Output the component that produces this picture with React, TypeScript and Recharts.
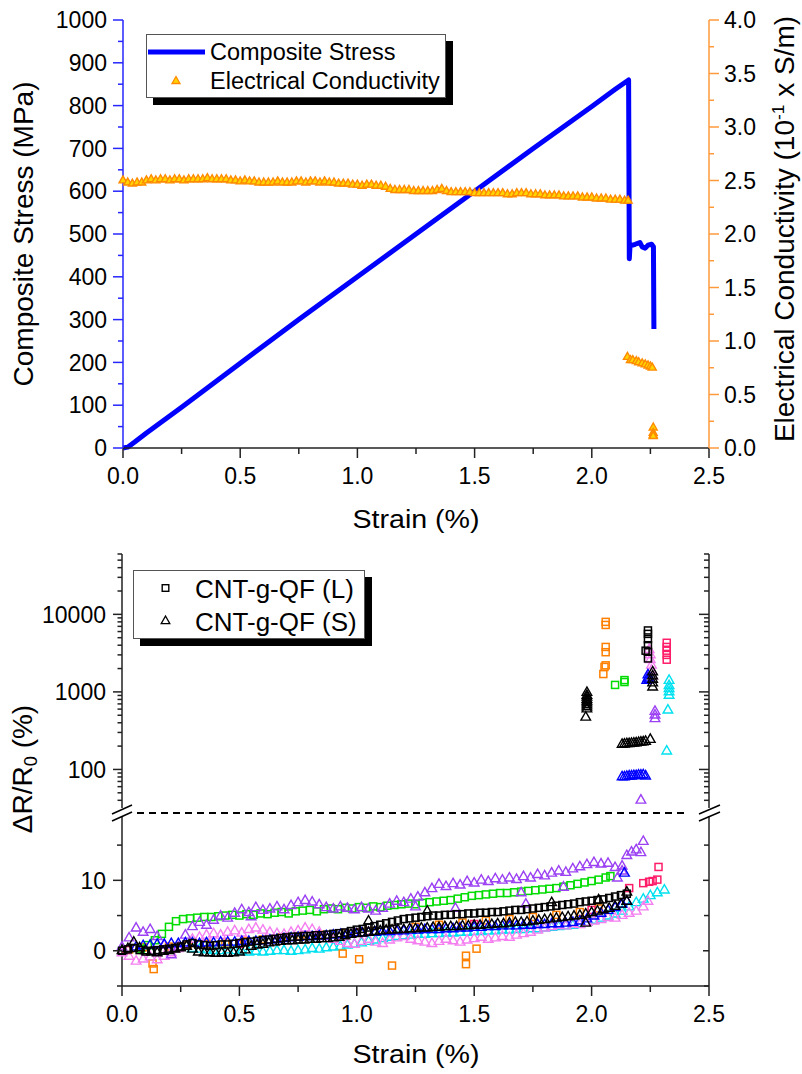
import React from 'react';
import { ComposedChart, ScatterChart, Line, Scatter, XAxis, YAxis } from 'recharts';

const FONT = '"Liberation Sans", Arial, Helvetica, sans-serif';

// ---------------- tick values ----------------
const strainTicks = [0, 0.25, 0.5, 0.75, 1, 1.25, 1.5, 1.75, 2, 2.25, 2.5];
const stressTicks = [0, 50, 100, 150, 200, 250, 300, 350, 400, 450, 500, 550, 600, 650, 700, 750, 800, 850, 900, 950, 1000];
const condTicks = [0, 0.25, 0.5, 0.75, 1, 1.25, 1.5, 1.75, 2, 2.25, 2.5, 2.75, 3, 3.25, 3.5, 3.75, 4];
const logTicks = [30, 40, 50, 60, 70, 80, 90, 100, 200, 300, 400, 500, 600, 700, 800, 900, 1000, 2000, 3000, 4000, 5000, 6000, 7000, 8000, 9000, 10000, 20000, 30000, 40000, 50000, 60000];
const linTicks = [-5, 0, 5, 10, 15];

// ---------------- top chart data ----------------
// [strain %, composite stress MPa]
const stressPts: [number, number][] = [
  [0, 0], [0.02, 2], [0.05, 14], [0.1, 35], [0.25, 95], [0.5, 198], [0.75, 300], [1.0, 400], [1.25, 500],
  [1.5, 600], [1.75, 700], [2.0, 798], [2.1, 838], [2.157, 860],
  [2.16, 442], [2.163, 472], [2.185, 476], [2.205, 480], [2.215, 470], [2.228, 467], [2.24, 474], [2.255, 476],
  [2.263, 470], [2.265, 278],
];

// [strain %, conductivity 10^-1 S/m]
const condPts: [number, number][] = [
  [0, 2.5], [0.02, 2.48], [0.04, 2.47], [0.06, 2.48], [0.08, 2.48], [0.1, 2.5], [0.12, 2.51], [0.14, 2.5],
  [0.16, 2.51], [0.18, 2.51], [0.2, 2.5], [0.22, 2.51], [0.24, 2.51], [0.26, 2.5], [0.28, 2.51], [0.3, 2.51],
  [0.32, 2.51], [0.34, 2.51], [0.36, 2.52], [0.38, 2.51], [0.4, 2.51], [0.42, 2.51], [0.44, 2.51], [0.46, 2.5],
  [0.48, 2.5], [0.5, 2.49], [0.52, 2.5], [0.54, 2.49], [0.56, 2.49], [0.58, 2.48], [0.6, 2.48], [0.62, 2.48],
  [0.64, 2.48], [0.66, 2.49], [0.68, 2.48], [0.7, 2.48], [0.72, 2.48], [0.74, 2.49], [0.76, 2.49], [0.78, 2.48],
  [0.8, 2.49], [0.82, 2.49], [0.84, 2.48], [0.86, 2.49], [0.88, 2.48], [0.9, 2.48], [0.92, 2.47], [0.94, 2.47],
  [0.96, 2.47], [0.98, 2.46], [1.0, 2.46], [1.02, 2.45], [1.04, 2.46], [1.06, 2.46], [1.08, 2.45], [1.1, 2.45],
  [1.12, 2.44], [1.14, 2.42], [1.16, 2.41], [1.18, 2.41], [1.2, 2.41], [1.22, 2.41], [1.24, 2.4], [1.26, 2.4],
  [1.28, 2.4], [1.3, 2.4], [1.32, 2.4], [1.34, 2.41], [1.36, 2.42], [1.38, 2.4], [1.4, 2.39], [1.42, 2.39],
  [1.44, 2.39], [1.46, 2.39], [1.48, 2.39], [1.5, 2.38], [1.52, 2.38], [1.54, 2.38], [1.56, 2.38], [1.58, 2.38],
  [1.6, 2.38], [1.62, 2.38], [1.64, 2.37], [1.66, 2.37], [1.68, 2.38], [1.7, 2.38], [1.72, 2.38], [1.74, 2.37],
  [1.76, 2.37], [1.78, 2.37], [1.8, 2.36], [1.82, 2.36], [1.84, 2.36], [1.86, 2.36], [1.88, 2.35], [1.9, 2.35],
  [1.92, 2.35], [1.94, 2.35], [1.96, 2.34], [1.98, 2.34], [2.0, 2.34], [2.02, 2.33], [2.04, 2.33], [2.06, 2.33],
  [2.08, 2.32], [2.1, 2.32], [2.12, 2.32], [2.14, 2.31], [2.155, 2.31],
  [2.152, 0.85], [2.165, 0.82], [2.175, 0.82], [2.19, 0.81], [2.2, 0.8], [2.215, 0.79], [2.228, 0.78],
  [2.24, 0.77], [2.25, 0.76], [2.258, 0.75], [2.262, 0.19], [2.262, 0.14], [2.262, 0.12], [2.262, 0.11],
];

// ---------------- bottom chart data (dR/R0 %) ----------------
// linear (lower) section
const blackSLow: [number, number][] = [
  [0, 0], [0.025, 0.3], [0.05, 1.2], [0.075, 0.4], [0.1, 0], [0.125, -0.2], [0.15, -0.3], [0.175, -0.1], [0.2, 0],
  [0.225, 0.2], [0.25, 0.4], [0.275, 0.6], [0.3, 0.2], [0.325, -0.2], [0.35, -0.3], [0.375, -0.3], [0.4, -0.4],
  [0.425, -0.3], [0.45, -0.4], [0.475, -0.3], [0.5, -0.2], [0.525, 0.1], [0.55, 0.6], [0.575, 0.8], [0.6, 0.9],
  [0.625, 1.1], [0.65, 1.2], [0.675, 1.3], [0.7, 1.4], [0.725, 1.4], [0.75, 1.5], [0.775, 1.5], [0.8, 1.6],
  [0.825, 1.6], [0.85, 1.7], [0.875, 1.7], [0.9, 1.8], [0.925, 1.9], [0.95, 2.1], [0.975, 2.3], [1.0, 2.4],
  [1.025, 2.5], [1.05, 2.6], [1.075, 2.7], [1.1, 2.8], [1.125, 2.9], [1.15, 2.9], [1.175, 3.0], [1.2, 3.0],
  [1.225, 3.1], [1.25, 3.1], [1.275, 3.2], [1.3, 3.2], [1.325, 3.3], [1.35, 3.3], [1.375, 3.4], [1.4, 3.4],
  [1.425, 3.4], [1.45, 3.5], [1.475, 3.5], [1.5, 3.6], [1.525, 3.6], [1.55, 3.7], [1.575, 3.7], [1.6, 3.8],
  [1.625, 3.8], [1.65, 3.9], [1.675, 4.0], [1.7, 4.0], [1.725, 4.1], [1.75, 4.2], [1.775, 4.3], [1.8, 4.4],
  [1.825, 4.5], [1.85, 4.6], [1.875, 4.7], [1.9, 4.8], [1.925, 4.9], [1.95, 5.0], [1.975, 5.2], [2.0, 5.4],
  [2.025, 5.6], [2.05, 5.8], [2.075, 6.0], [2.1, 6.3], [2.125, 6.6], [2.15, 7.0],
  [1.975, 3.9], [2.15, 8.3], [1.83, 6.8], [2.03, 7.2], [1.3, 5.6], [1.05, 4.2],
];
const blackLLow: [number, number][] = [
  [0, 0], [0.025, 0.2], [0.05, 0.4], [0.075, 0.1], [0.1, -0.1], [0.125, 0], [0.15, 0.1], [0.175, 0.2], [0.2, 0.3],
  [0.225, 0.4], [0.25, 0.6], [0.275, 0.9], [0.3, 1.1], [0.325, 0.9], [0.35, 0.8], [0.375, 0.7], [0.4, 0.8],
  [0.425, 0.9], [0.45, 0.9], [0.475, 1.0], [0.5, 1.1], [0.525, 1.2], [0.55, 1.3], [0.575, 1.4], [0.6, 1.5],
  [0.625, 1.6], [0.65, 1.7], [0.675, 1.8], [0.7, 1.9], [0.725, 2.0], [0.75, 2.0], [0.775, 2.1], [0.8, 2.1],
  [0.825, 2.2], [0.85, 2.2], [0.875, 2.3], [0.9, 2.4], [0.925, 2.5], [0.95, 2.6], [0.975, 2.8], [1.0, 3.0],
  [1.025, 3.1], [1.05, 3.3], [1.075, 3.5], [1.1, 3.7], [1.125, 3.9], [1.15, 4.1], [1.175, 4.3], [1.2, 4.5],
  [1.225, 4.6], [1.25, 4.7], [1.275, 4.8], [1.3, 4.9], [1.325, 5.0], [1.35, 5.0], [1.375, 5.1], [1.4, 5.1],
  [1.425, 5.2], [1.45, 5.2], [1.475, 5.3], [1.5, 5.3], [1.525, 5.4], [1.55, 5.4], [1.575, 5.5], [1.6, 5.5],
  [1.625, 5.6], [1.65, 5.7], [1.675, 5.8], [1.7, 5.8], [1.725, 5.9], [1.75, 6.0], [1.775, 6.1], [1.8, 6.2],
  [1.825, 6.3], [1.85, 6.4], [1.875, 6.5], [1.9, 6.6], [1.925, 6.7], [1.95, 6.9], [1.975, 7.0], [2.0, 7.1],
  [2.025, 7.2], [2.05, 7.3], [2.075, 7.5], [2.1, 7.7], [2.125, 7.9], [2.15, 8.1],
];
const blueLow: [number, number][] = [
  [0.06, 0.5], [0.09, 0.7], [0.12, 0.8], [0.15, 0.9], [0.18, 0.9], [0.21, 1.0], [0.24, 1.0], [0.27, 1.1],
  [0.3, 1.1], [0.33, 1.0], [0.36, 1.1], [0.39, 1.1], [0.42, 1.2], [0.45, 1.2], [0.48, 1.2], [0.51, 1.3],
  [0.54, 1.3], [0.57, 1.3], [0.6, 1.4], [0.63, 1.5], [0.66, 1.6], [0.69, 1.7], [0.72, 1.8], [0.75, 1.9],
  [0.78, 2.0], [0.81, 2.0], [0.84, 2.1], [0.87, 2.1], [0.9, 2.2], [0.93, 2.3], [0.96, 2.4], [0.99, 2.5],
  [1.02, 2.5], [1.05, 2.6], [1.08, 2.6], [1.11, 2.7], [1.14, 2.7], [1.17, 2.8], [1.2, 2.8], [1.23, 2.9],
  [1.26, 2.9], [1.29, 3.0], [1.32, 3.0], [1.35, 3.0], [1.38, 3.1], [1.41, 3.1], [1.44, 3.2], [1.47, 3.2],
  [1.5, 3.3], [1.53, 3.3], [1.56, 3.4], [1.59, 3.4], [1.62, 3.5], [1.65, 3.5], [1.68, 3.5], [1.71, 3.6],
  [1.74, 3.6], [1.77, 3.7], [1.8, 3.7], [1.83, 3.8], [1.86, 3.8], [1.89, 3.9], [1.92, 4.0], [1.95, 4.2],
  [1.98, 4.5], [2.01, 4.9], [2.04, 5.3], [2.07, 5.7], [2.1, 6.1], [2.13, 6.6], [2.15, 7.0], [2.14, 11.0],
];
const cyanLow: [number, number][] = [
  [0.3, 0.3], [0.33, 0.2], [0.36, 0.1], [0.39, 0], [0.42, 0], [0.45, 0.1], [0.48, 0], [0.51, -0.1], [0.54, -0.2],
  [0.57, -0.1], [0.6, -0.2], [0.63, -0.1], [0.66, 0], [0.69, 0], [0.72, -0.1], [0.75, 0], [0.78, 0.1], [0.81, 0.3],
  [0.84, 0.2], [0.87, 0.4], [0.9, 0.5], [0.93, 0.6], [0.96, 0.8], [0.99, 0.9], [1.02, 1.1], [1.05, 1.3],
  [1.08, 1.5], [1.11, 1.7], [1.14, 1.9], [1.17, 2.0], [1.2, 2.1], [1.23, 2.2], [1.26, 2.3], [1.29, 2.3],
  [1.32, 2.4], [1.35, 2.4], [1.38, 2.5], [1.41, 2.5], [1.44, 2.6], [1.47, 2.6], [1.5, 2.7], [1.53, 2.7],
  [1.56, 2.8], [1.59, 2.8], [1.62, 2.9], [1.65, 2.9], [1.68, 3.0], [1.71, 3.0], [1.74, 3.1], [1.77, 3.1],
  [1.8, 3.2], [1.83, 3.3], [1.86, 3.4], [1.89, 3.5], [1.92, 3.6], [1.95, 3.8], [1.98, 4.0], [2.01, 4.3],
  [2.04, 4.6], [2.07, 4.9], [2.1, 5.2], [2.13, 5.6], [2.16, 6.2], [2.19, 6.8], [2.22, 7.3], [2.25, 7.8],
  [2.28, 8.2], [2.31, 8.6],
];
const pinkLow: [number, number][] = [
  [0, -0.3], [0.03, -0.8], [0.06, -1.5], [0.09, -1.2], [0.12, -0.9], [0.15, -1.3], [0.18, -0.8], [0.21, -0.3],
  [0.24, 0.3], [0.27, 1.0], [0.3, 1.6], [0.33, 1.9], [0.36, 2.2], [0.39, 2.4], [0.42, 2.2], [0.45, 2.6],
  [0.48, 2.8], [0.51, 2.5], [0.54, 3.0], [0.57, 3.2], [0.6, 2.9], [0.63, 2.6], [0.66, 2.4], [0.69, 2.3],
  [0.72, 2.6], [0.75, 2.8], [0.78, 3.2], [0.81, 3.0], [0.84, 2.6], [0.87, 2.0], [0.9, 1.6], [0.93, 1.3],
  [0.96, 1.0], [0.99, 0.9], [1.02, 1.3], [1.05, 1.6], [1.08, 1.2], [1.11, 1.0], [1.14, 1.5], [1.17, 1.8],
  [1.2, 2.0], [1.23, 1.6], [1.26, 1.4], [1.29, 1.2], [1.32, 1.0], [1.35, 1.3], [1.38, 1.6], [1.41, 1.4],
  [1.44, 1.2], [1.47, 1.5], [1.5, 1.7], [1.53, 1.9], [1.56, 1.6], [1.59, 1.8], [1.62, 2.0], [1.65, 1.9],
  [1.68, 2.2], [1.71, 2.4], [1.74, 2.6], [1.77, 2.9], [1.8, 3.2], [1.83, 3.4], [1.86, 3.6], [1.89, 3.5],
  [1.92, 3.8], [1.95, 3.7], [1.98, 4.0], [2.01, 4.2], [2.04, 4.4], [2.07, 4.7], [2.1, 4.6], [2.13, 5.0],
  [2.16, 5.3], [2.19, 5.6], [2.22, 6.2], [2.24, 7.0],
];
const greenLow: [number, number][] = [
  [0.08, 0.3], [0.11, 0.8], [0.14, 1.5], [0.17, 2.4], [0.2, 3.4], [0.23, 4.2], [0.26, 4.5], [0.29, 4.6],
  [0.32, 4.7], [0.35, 4.8], [0.38, 4.8], [0.41, 4.9], [0.44, 5.0], [0.47, 5.1], [0.5, 5.0], [0.53, 5.2],
  [0.56, 5.1], [0.59, 5.3], [0.62, 5.2], [0.65, 5.4], [0.68, 5.5], [0.71, 5.3], [0.74, 5.6], [0.77, 5.7],
  [0.8, 5.8], [0.83, 5.6], [0.86, 5.9], [0.89, 6.0], [0.92, 5.9], [0.95, 6.1], [0.98, 6.0], [1.01, 6.2],
  [1.04, 6.1], [1.07, 6.3], [1.1, 6.2], [1.13, 6.4], [1.16, 6.5], [1.19, 6.6], [1.22, 6.7], [1.25, 6.6],
  [1.28, 6.8], [1.31, 6.9], [1.34, 7.0], [1.37, 7.1], [1.4, 7.2], [1.43, 7.4], [1.46, 7.6], [1.49, 7.8],
  [1.52, 7.9], [1.55, 8.0], [1.58, 8.1], [1.61, 8.2], [1.64, 8.2], [1.67, 8.3], [1.7, 8.4], [1.73, 8.5],
  [1.76, 8.6], [1.79, 8.7], [1.82, 8.8], [1.85, 8.9], [1.88, 9.1], [1.91, 9.3], [1.94, 9.5], [1.97, 9.7],
  [2.0, 9.9], [2.03, 10.1], [2.06, 10.4], [2.08, 10.6],
];
const purpleLow: [number, number][] = [
  [0, 0.5], [0.03, 1.8], [0.06, 3.2], [0.09, 2.6], [0.12, 3.0], [0.15, 2.0], [0.18, 0.8], [0.21, -0.6],
  [0.24, 0.5], [0.27, 2.2], [0.3, 3.4], [0.33, 4.0], [0.36, 3.6], [0.39, 4.3], [0.42, 4.9], [0.45, 4.6],
  [0.48, 5.3], [0.51, 5.8], [0.54, 5.4], [0.57, 6.1], [0.6, 5.7], [0.63, 5.9], [0.66, 6.2], [0.69, 5.8],
  [0.72, 6.4], [0.75, 6.8], [0.78, 7.1], [0.81, 6.9], [0.84, 6.5], [0.87, 6.1], [0.9, 5.9], [0.93, 6.2],
  [0.96, 6.0], [0.99, 5.8], [1.02, 6.1], [1.05, 5.9], [1.08, 5.6], [1.11, 6.0], [1.14, 6.6], [1.17, 7.0],
  [1.2, 6.8], [1.23, 7.3], [1.26, 7.6], [1.29, 8.2], [1.32, 8.8], [1.35, 9.4], [1.38, 9.1], [1.41, 9.5],
  [1.44, 9.3], [1.47, 9.8], [1.5, 9.6], [1.53, 10.0], [1.56, 9.8], [1.59, 10.2], [1.62, 10.0], [1.65, 10.3],
  [1.68, 10.1], [1.71, 10.5], [1.74, 10.3], [1.77, 10.8], [1.8, 10.6], [1.83, 11.0], [1.86, 11.3], [1.89, 11.1],
  [1.92, 11.6], [1.95, 11.9], [1.98, 12.2], [2.01, 12.5], [2.04, 12.3], [2.07, 12.4], [2.1, 11.8], [2.13, 11.3],
  [2.15, 13.5], [2.17, 14.0], [2.19, 14.3], [2.21, 13.9], [2.22, 15.5],
  [1.42, 6.0], [1.7, 8.2], [1.72, 6.6], [1.88, 9.0], [2.11, 10.3], [2.13, 12.0], [0.55, 4.8], [1.25, 6.2],
];
const orangeLow: [number, number][] = [
  [0.03, 0.2], [0.09, 0.5], [0.13, -1.8], [0.135, -2.6], [0.2, 0.6], [0.28, 0.9], [0.36, 1.0], [0.44, 1.2],
  [0.52, 1.4], [0.6, 1.6], [0.68, 1.9], [0.76, 2.1], [0.84, 2.3], [0.94, -0.4], [0.95, 2.5], [1.01, -1.2],
  [1.05, 2.8], [1.15, -2.1], [1.15, 3.1], [1.25, 3.4], [1.35, 3.7], [1.45, 4.0], [1.465, -0.7], [1.465, -1.9],
  [1.51, 0.3], [1.55, 4.3], [1.65, 4.5], [1.75, 4.8], [1.85, 5.1], [1.95, 5.5], [2.03, 6.0],
];
const crimsonLow: [number, number][] = [
  [0.02, 0.1], [0.5, 1.0], [1.0, 2.6], [1.5, 3.8], [2.0, 5.8], [2.16, 8.9], [2.22, 9.6], [2.245, 9.8],
  [2.26, 9.9], [2.28, 10.1], [2.285, 11.9],
];

// log (upper) section
const blackSUp: [number, number][] = [
  [1.975, 470], [1.98, 600], [1.98, 640], [1.98, 680], [1.98, 720], [1.98, 760], [1.98, 800], [1.98, 850],
  [1.98, 900], [1.98, 980], [2.13, 210], [2.14, 212], [2.15, 214], [2.16, 215], [2.17, 216], [2.18, 218],
  [2.19, 220], [2.2, 222], [2.21, 224], [2.22, 226], [2.23, 230], [2.25, 243], [2.26, 1150], [2.26, 1300],
  [2.26, 1450], [2.26, 1600], [2.26, 1800],
];
const blackLUp: [number, number][] = [
  [2.23, 3400], [2.24, 2700], [2.24, 3300], [2.24, 4000], [2.24, 4800], [2.24, 5600], [2.24, 6200],
];
const blueUp: [number, number][] = [
  [2.13, 80], [2.14, 80], [2.15, 81], [2.16, 82], [2.17, 82], [2.18, 83], [2.19, 83], [2.2, 84], [2.21, 84],
  [2.22, 85], [2.23, 82], [2.235, 1400], [2.24, 1500], [2.24, 1650], [2.245, 1450],
];
const pinkUp: [number, number][] = [
  [2.245, 3500], [2.25, 3000], [2.25, 2600], [2.255, 2200], [2.255, 1900], [2.26, 1600],
];
const purpleUp: [number, number][] = [[2.21, 40], [2.27, 450], [2.27, 500], [2.27, 560]];
const cyanUp: [number, number][] = [
  [2.32, 172], [2.325, 580], [2.33, 900], [2.33, 1000], [2.33, 1100], [2.33, 1200], [2.33, 1400],
];
const crimsonUp: [number, number][] = [[2.32, 2600], [2.32, 3000], [2.32, 3400], [2.32, 3800], [2.32, 4300]];
const orangeUp: [number, number][] = [
  [2.05, 1700], [2.055, 2100], [2.06, 2200], [2.06, 3250], [2.06, 3800], [2.06, 7300], [2.06, 8000],
];
const greenUp: [number, number][] = [[2.1, 1230], [2.14, 1340], [2.14, 1420]];

const toXY = (a: [number, number][]) => a.map(([x, y]) => ({ x, y }));

// series styling (kept separate from the values)
type Shape = 'sq' | 'tri';
const bottomSeries: { name: string; color: string; shape: Shape; low: [number, number][]; up: [number, number][] }[] = [
  { name: 'cyan', color: '#00E1F0', shape: 'tri', low: cyanLow, up: cyanUp },
  { name: 'orange', color: '#FF8000', shape: 'sq', low: orangeLow, up: orangeUp },
  { name: 'crimson', color: '#FF1C68', shape: 'sq', low: crimsonLow, up: crimsonUp },
  { name: 'pink', color: '#F47EF0', shape: 'tri', low: pinkLow, up: pinkUp },
  { name: 'green', color: '#00DC00', shape: 'sq', low: greenLow, up: greenUp },
  { name: 'purple', color: '#9B40F2', shape: 'tri', low: purpleLow, up: purpleUp },
  { name: 'blue', color: '#0000FF', shape: 'tri', low: blueLow, up: blueUp },
  { name: 'blackL', color: '#000000', shape: 'sq', low: blackLLow, up: blackLUp },
  { name: 'blackS', color: '#000000', shape: 'tri', low: blackSLow, up: blackSUp },
];

// ---------------- shapes ----------------
const squareShape = (color: string) => (p: any) => (
  <rect x={p.cx - 3.5} y={p.cy - 3.5} width={7} height={7} fill="none" stroke={color} strokeWidth={1.5} />
);
const triShape = (color: string, fill = 'none', w = 9.6, h = 8.4) => (p: any) => (
  <polygon
    points={`${p.cx},${p.cy - (h * 2) / 3} ${p.cx - w / 2},${p.cy + h / 3} ${p.cx + w / 2},${p.cy + h / 3}`}
    fill={fill}
    stroke={color}
    strokeWidth={1.4}
    strokeLinejoin="miter"
  />
);

// ---------------- ticks ----------------
type TickCfg = {
  side: 'top' | 'bottom' | 'left' | 'right';
  dir: number;
  major: number;
  minor: number;
  color: string;
  isMajor: (v: number) => boolean;
  fmt?: (v: number) => string;
};
const makeTick = (c: TickCfg) => (props: any) => {
  const { x, y, payload } = props;
  const v = Number(payload && payload.value);
  const maj = c.isMajor(v);
  const len = maj ? c.major : c.minor;
  const vert = c.side === 'top' || c.side === 'bottom';
  const txt = maj && c.fmt ? c.fmt(v) : null;
  const ts = { fontFamily: FONT, fontSize: 23, fill: '#000' } as const;
  let label: React.ReactNode = null;
  if (txt !== null) {
    if (c.side === 'bottom')
      label = (
        <text x={x} y={y + 35.5} textAnchor="middle" style={ts}>
          {txt}
        </text>
      );
    else if (c.side === 'left')
      label = (
        <text x={x - 16} y={y} dy="0.36em" textAnchor="end" style={ts}>
          {txt}
        </text>
      );
    else if (c.side === 'right')
      label = (
        <text x={x + 15} y={y} dy="0.36em" textAnchor="start" style={ts}>
          {txt}
        </text>
      );
  }
  return (
    <g>
      {vert ? (
        <line x1={x} y1={y} x2={x} y2={y + c.dir * len} stroke={c.color} strokeWidth={1.5} />
      ) : (
        <line x1={x} y1={y} x2={x + c.dir * len} y2={y} stroke={c.color} strokeWidth={1.5} />
      )}
      {label}
    </g>
  );
};

const halfMajor = (v: number) => Math.abs(v * 2 - Math.round(v * 2)) < 1e-6;
const logMajor = (v: number) => Math.abs(Math.log10(v) - Math.round(Math.log10(v))) < 1e-6;

const AX = '#222';
const BLUE_AX = '#2626ff';
const ORANGE_AX = '#FF9A3C';

const xBottomTick = makeTick({ side: 'bottom', dir: 1, major: 10, minor: 6, color: AX, isMajor: halfMajor, fmt: (v) => v.toFixed(1) });
const xTopTick = makeTick({ side: 'top', dir: 1, major: 9, minor: 5, color: AX, isMajor: halfMajor });
const stressTick = makeTick({ side: 'left', dir: -1, major: 10, minor: 5, color: BLUE_AX, isMajor: (v) => v % 100 === 0, fmt: (v) => String(v) });
const condTick = makeTick({ side: 'right', dir: 1, major: 10, minor: 5, color: ORANGE_AX, isMajor: halfMajor, fmt: (v) => v.toFixed(1) });
const logLeftTick = makeTick({ side: 'left', dir: -1, major: 9, minor: 4.5, color: AX, isMajor: logMajor, fmt: (v) => String(Math.round(v)) });
const logRightTick = makeTick({ side: 'right', dir: -1, major: 10, minor: 5, color: AX, isMajor: logMajor });
const linLeftTick = makeTick({ side: 'left', dir: -1, major: 9, minor: 5, color: AX, isMajor: (v) => v === 0 || v === 10, fmt: (v) => String(v) });
const linRightTick = makeTick({ side: 'right', dir: -1, major: 6, minor: 5, color: AX, isMajor: (v) => v === 0 || v === 10 });

const axisCommon = { tickSize: 0, tickMargin: 0, tickLine: false, interval: 0 as const };

const rotTitle = (cx: number, cy: number): React.CSSProperties => ({
  position: 'absolute',
  left: cx,
  top: cy,
  transform: 'translate(-50%, -50%) rotate(-90deg)',
  fontFamily: FONT,
  fontSize: 28,
  lineHeight: '28px',
  whiteSpace: 'nowrap',
  width: 'max-content',
  color: '#000',
});
const hTitle = (cx: number, cy: number): React.CSSProperties => ({
  position: 'absolute',
  left: cx,
  top: cy,
  transform: 'translate(-50%, -50%) scaleX(1.1)',
  fontFamily: FONT,
  fontSize: 26,
  lineHeight: '26px',
  whiteSpace: 'nowrap',
  width: 'max-content',
  color: '#000',
});

export default function App() {
  const stressData = toXY(stressPts);
  const condData = toXY(condPts);
  return (
    <div style={{ position: 'absolute', left: 0, top: 0, width: 802, height: 1074, overflow: 'hidden', background: '#fff' }}>
      {/* ---------------- top chart ---------------- */}
      <div style={{ position: 'absolute', left: 0, top: 0 }}>
        <ComposedChart width={802} height={540} margin={{ top: 20, right: 33, bottom: 32, left: 63 }}>
          <XAxis
            xAxisId="b"
            type="number"
            dataKey="x"
            domain={[0, 2.5]}
            ticks={strainTicks}
            height={60}
            axisLine={{ stroke: AX, strokeWidth: 1.5 }}
            tick={xBottomTick}
            {...axisCommon}
          />
          <XAxis
            xAxisId="t"
            orientation="top"
            type="number"
            dataKey="x"
            domain={[0, 2.5]}
            ticks={strainTicks}
            height={0}
            axisLine={{ stroke: AX, strokeWidth: 1.5 }}
            tick={xTopTick}
            {...axisCommon}
          />
          <YAxis
            yAxisId="s"
            type="number"
            dataKey="y"
            domain={[0, 1000]}
            ticks={stressTicks}
            width={60}
            axisLine={{ stroke: BLUE_AX, strokeWidth: 1.5 }}
            tick={stressTick}
            {...axisCommon}
          />
          <YAxis
            yAxisId="c"
            orientation="right"
            type="number"
            dataKey="y"
            domain={[0, 4]}
            ticks={condTicks}
            width={60}
            axisLine={{ stroke: ORANGE_AX, strokeWidth: 1.5 }}
            tick={condTick}
            {...axisCommon}
          />
          <Scatter
            xAxisId="b"
            yAxisId="c"
            data={condData}
            dataKey="y"
            isAnimationActive={false}
            shape={triShape('#FF8A00', '#FFD400', 8, 7)}
          />
          <Line
            xAxisId="b"
            yAxisId="s"
            data={stressData}
            dataKey="y"
            type="linear"
            stroke="#0000FF"
            strokeWidth={5}
            strokeLinejoin="round"
            dot={false}
            activeDot={false}
            isAnimationActive={false}
          />
        </ComposedChart>
      </div>

      {/* ---------------- bottom chart, log part ---------------- */}
      <div style={{ position: 'absolute', left: 0, top: 540 }}>
        <ScatterChart width={802} height={272} margin={{ top: 14, right: 33, bottom: 2, left: 62 }}>
          <XAxis
            orientation="top"
            type="number"
            dataKey="x"
            domain={[0, 2.5]}
            ticks={strainTicks}
            height={0}
            axisLine={{ stroke: AX, strokeWidth: 1.5 }}
            tick={xTopTick}
            {...axisCommon}
          />
          <YAxis
            yAxisId="l"
            type="number"
            dataKey="y"
            scale="log"
            domain={[30, 60000]}
            allowDataOverflow
            ticks={logTicks}
            width={60}
            axisLine={{ stroke: AX, strokeWidth: 1.5 }}
            tick={logLeftTick}
            {...axisCommon}
          />
          <YAxis
            yAxisId="r"
            orientation="right"
            type="number"
            dataKey="y"
            scale="log"
            domain={[30, 60000]}
            allowDataOverflow
            ticks={logTicks}
            width={60}
            axisLine={{ stroke: AX, strokeWidth: 1.5 }}
            tick={logRightTick}
            {...axisCommon}
          />
          {bottomSeries.map((s) => (
            <Scatter
              key={'u' + s.name}
              yAxisId="l"
              data={toXY(s.up)}
              dataKey="y"
              isAnimationActive={false}
              shape={s.shape === 'sq' ? squareShape(s.color) : triShape(s.color)}
            />
          ))}
        </ScatterChart>
      </div>

      {/* ---------------- bottom chart, linear part ---------------- */}
      <div style={{ position: 'absolute', left: 0, top: 808 }}>
        <ScatterChart width={802} height={266} margin={{ top: 4, right: 33, bottom: 28, left: 62 }}>
          <XAxis
            type="number"
            dataKey="x"
            domain={[0, 2.5]}
            ticks={strainTicks}
            height={60}
            axisLine={{ stroke: AX, strokeWidth: 1.5 }}
            tick={xBottomTick}
            {...axisCommon}
          />
          <YAxis
            yAxisId="l"
            type="number"
            dataKey="y"
            domain={[-5, 19.7]}
            allowDataOverflow
            ticks={linTicks}
            width={60}
            axisLine={{ stroke: AX, strokeWidth: 1.5 }}
            tick={linLeftTick}
            {...axisCommon}
          />
          <YAxis
            yAxisId="r"
            orientation="right"
            type="number"
            dataKey="y"
            domain={[-5, 19.7]}
            allowDataOverflow
            ticks={linTicks}
            width={60}
            axisLine={{ stroke: AX, strokeWidth: 1.5 }}
            tick={linRightTick}
            {...axisCommon}
          />
          {bottomSeries.map((s) => (
            <Scatter
              key={'l' + s.name}
              yAxisId="l"
              data={toXY(s.low)}
              dataKey="y"
              isAnimationActive={false}
              shape={s.shape === 'sq' ? squareShape(s.color) : triShape(s.color)}
            />
          ))}
        </ScatterChart>
      </div>

      {/* ---------------- decorations: axis break ---------------- */}
      <svg style={{ position: 'absolute', left: 0, top: 0, pointerEvents: 'none' }} width={802} height={1074}>
        <line x1={137} x2={688} y1={813} y2={813} stroke="#000" strokeWidth={2} strokeDasharray="7 5" />
        <rect x={117} y={808} width={10} height={8} fill="#fff" />
        <line x1={112} y1={814} x2={132} y2={805} stroke="#000" strokeWidth={1.5} />
        <line x1={112} y1={821} x2={132} y2={812} stroke="#000" strokeWidth={1.5} />
        <rect x={704} y={808} width={10} height={8} fill="#fff" />
        <line x1={699} y1={814} x2={720} y2={805} stroke="#000" strokeWidth={1.5} />
        <line x1={699} y1={821} x2={720} y2={812} stroke="#000" strokeWidth={1.5} />
      </svg>

      {/* ---------------- titles ---------------- */}
      <div style={rotTitle(23.6, 234)}>Composite Stress (MPa)</div>
      <div style={rotTitle(786, 229)}>
        Electrical Conductivity (10
        <span style={{ fontSize: '0.62em', position: 'relative', top: '-0.6em' }}>-1</span> x S/m)
      </div>
      <div style={hTitle(416, 519)}>Strain (%)</div>
      <div style={rotTitle(23.6, 769)}>
        ΔR/R<span style={{ fontSize: '0.65em', position: 'relative', top: '0.3em' }}>0</span> (%)
      </div>
      <div style={hTitle(416, 1054)}>Strain (%)</div>

      {/* ---------------- legends ---------------- */}
      <div
        style={{
          position: 'absolute',
          left: 146,
          top: 34,
          width: 300,
          height: 64,
          boxSizing: 'border-box',
          border: '1px solid #555',
          background: '#fff',
          boxShadow: '7px 7px 0 #000',
          fontFamily: FONT,
        }}
      >
        <svg style={{ position: 'absolute', left: -1, top: -1 }} width={300} height={64}>
          <line x1={2} x2={59} y1={18} y2={18} stroke="#0000FF" strokeWidth={5} />
          <polygon points="30,42.5 26,49.5 34,49.5" fill="#FFD400" stroke="#FF8A00" strokeWidth={1.3} />
        </svg>
        <span style={{ position: 'absolute', left: 63, top: 18 - 12.5, fontSize: 23.5, lineHeight: '23.5px', whiteSpace: 'nowrap' }}>
          Composite Stress
        </span>
        <span style={{ position: 'absolute', left: 63, top: 47 - 12.5, fontSize: 23.5, lineHeight: '23.5px', whiteSpace: 'nowrap' }}>
          Electrical Conductivity
        </span>
      </div>

      <div
        style={{
          position: 'absolute',
          left: 133,
          top: 570,
          width: 232,
          height: 69,
          boxSizing: 'border-box',
          border: '1px solid #555',
          background: '#fff',
          boxShadow: '7px 7px 0 #000',
          fontFamily: FONT,
        }}
      >
        <svg style={{ position: 'absolute', left: -1, top: -1 }} width={232} height={69}>
          <rect x={29.2} y={14.7} width={6.6} height={6.6} fill="none" stroke="#000" strokeWidth={1.4} />
          <polygon points="32.5,46 28.2,53.6 36.8,53.6" fill="none" stroke="#000" strokeWidth={1.3} />
        </svg>
        <span style={{ position: 'absolute', left: 61, top: 18.5 - 13.5, fontSize: 26, lineHeight: '26px', whiteSpace: 'nowrap' }}>
          CNT-g-QF (L)
        </span>
        <span style={{ position: 'absolute', left: 61, top: 51 - 13.5, fontSize: 26, lineHeight: '26px', whiteSpace: 'nowrap' }}>
          CNT-g-QF (S)
        </span>
      </div>
    </div>
  );
}
